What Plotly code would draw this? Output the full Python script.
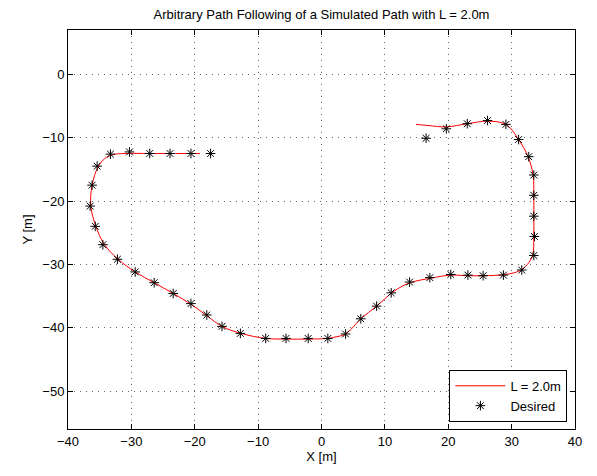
import plotly.graph_objects as go

# Desired path points (stars)
desired_x = [16.5, 19.7, 23.0, 26.2, 29.1, 31.1, 32.7, 33.5, 33.5, 33.5, 33.6, 33.5,
             31.6, 28.7, 25.5, 23.1, 20.4, 17.1, 13.9, 11.0, 8.7, 6.2, 3.8, 1.0,
             -2.1, -5.6, -8.8, -12.8, -15.7, -18.1, -20.6, -23.4, -26.4, -29.4,
             -32.2, -34.5, -35.7, -36.5, -36.2, -35.4, -33.3, -30.3, -27.1, -23.9,
             -20.6, -17.5]
desired_y = [-10.1, -8.6, -7.8, -7.3, -7.9, -10.3, -13.0, -15.9, -19.1, -22.4, -25.6, -28.6,
             -30.9, -31.7, -31.8, -31.7, -31.6, -32.1, -32.8, -34.5, -36.6, -38.6, -41.0, -41.7,
             -41.7, -41.7, -41.7, -40.9, -39.8, -38.0, -36.2, -34.6, -32.9, -31.2,
             -29.2, -26.9, -24.0, -20.8, -17.5, -14.5, -12.6, -12.25, -12.5, -12.5,
             -12.5, -12.5]

# Followed path (red line)
path_x = [14.9, 17.0, 19.7, 23.0, 26.2, 29.1, 31.1, 32.6, 33.4, 33.5, 33.5, 33.5, 33.3,
          32.5, 31.3, 29.0, 25.5, 23.0, 20.4, 17.2, 14.0, 11.5, 8.7, 6.2, 3.8, 2.0, 1.0,
          -2.1, -5.6, -8.8, -12.7, -15.7, -18.1, -20.6, -23.4, -26.4, -29.4, -32.2,
          -34.3, -35.6, -36.4, -36.2, -35.3, -34.2, -33.0, -31.0, -27.1, -23.9, -20.6, -19.2]
path_y = [-7.9, -8.1, -8.3, -7.8, -7.4, -7.9, -10.3, -13.0, -16.0, -19.0, -22.4, -25.6, -28.6,
          -30.0, -31.0, -31.6, -31.8, -31.8, -31.7, -32.2, -32.9, -34.2, -36.6, -38.6, -41.0, -41.5, -41.7,
          -41.8, -41.8, -41.7, -40.9, -39.8, -38.1, -36.3, -34.6, -32.9, -31.2, -29.1,
          -26.8, -24.0, -20.8, -17.5, -14.7, -13.3, -12.7, -12.5, -12.5, -12.5, -12.5, -12.5]

x_ticks = [-40, -30, -20, -10, 0, 10, 20, 30, 40]
y_ticks = [0, -10, -20, -30, -40, -50]

fig = go.Figure()
fig.add_trace(go.Scatter(x=path_x, y=path_y, mode="lines", name="L = 2.0m",
                         line=dict(color="red", width=1, shape="spline")))
fig.add_trace(go.Scatter(x=desired_x, y=desired_y, mode="markers", name="Desired",
                         marker=dict(symbol="asterisk-open", size=8, color="black",
                                     line=dict(color="black", width=1))))

axis_common = dict(showline=True, linecolor="black", linewidth=1, mirror="allticks",
                   ticks="inside", ticklen=5, tickcolor="black",
                   showgrid=True, gridcolor="rgba(0,0,0,0.6)", griddash="1px,5px", gridwidth=1,
                   zeroline=False, tickfont=dict(size=13, color="black"), automargin=False)

fig.update_xaxes(range=[-40, 40], tickvals=x_ticks,
                 title=dict(text="X [m]", font=dict(size=13, color="black"), standoff=2),
                 **axis_common)
fig.update_yaxes(range=[-56, 7], tickvals=y_ticks,
                 title=dict(text="Y [m]", font=dict(size=13, color="black"), standoff=6),
                 **axis_common)

fig.update_layout(
    width=589, height=468,
    margin=dict(l=60, r=22, t=22, b=47),
    paper_bgcolor="white", plot_bgcolor="white",
    font=dict(family="Liberation Sans, Arial, sans-serif", size=13, color="black"),
    title=dict(text="Arbitrary Path Following of a Simulated Path with L = 2.0m",
               x=0.5, xref="paper", xanchor="center",
               y=1 - 2 / 468, yref="container", yanchor="top", pad=dict(t=0, b=0),
               font=dict(size=13, color="black")),
    legend=dict(x=0.985, y=0.018, xanchor="right", yanchor="bottom",
                bordercolor="black", borderwidth=1, bgcolor="white", itemwidth=50,
                font=dict(size=13, color="black"), tracegroupgap=0),
    showlegend=True,
)

fig.write_html("out.html")
